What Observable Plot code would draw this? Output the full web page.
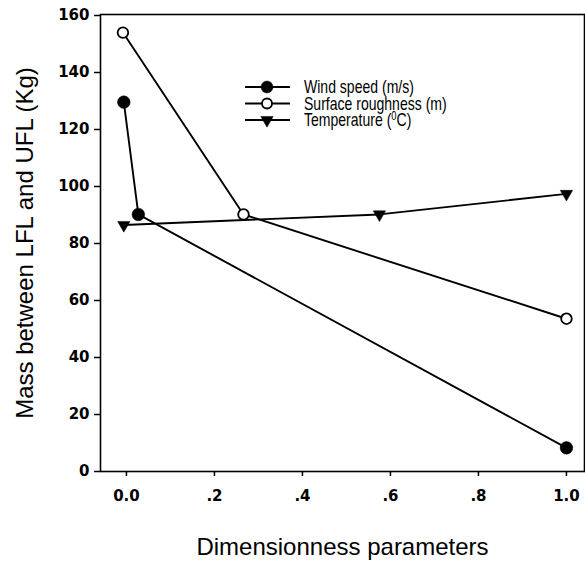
<!DOCTYPE html>
<html>
<head>
<meta charset="utf-8">
<script src="https://cdn.jsdelivr.net/npm/d3@7"></script>
<script src="https://cdn.jsdelivr.net/npm/@observablehq/plot@0.6"></script>
<style>
  html, body { margin: 0; padding: 0; background: white; }
</style>
</head>
<body>
<div id="chart"></div>
<script>
// Series (x = dimensionless parameter, y = mass in kg)
const windX = [-0.006, 0.027, 1.0];
const windY = [129.6, 90.2, 8.3];
const roughX = [-0.008, 0.266, 1.0];
const roughY = [154, 90.2, 53.6];
const tempX = [-0.006, 0.575, 1.0];
const tempY = [86.5, 90.2, 97.4];

const seriesNames = ["Wind speed (m/s)", "Surface roughness (m)", "Temperature"];
const xTicks = [0, 0.2, 0.4, 0.6, 0.8, 1.0];
const xTickLabels = ["0.0", ".2", ".4", ".6", ".8", "1.0"];
const yTicks = [0, 20, 40, 60, 80, 100, 120, 140, 160];
const xTitle = "Dimensionness parameters";
const yTitle = "Mass between LFL and UFL (Kg)";

const toRows = (xs, ys) => xs.map((x, i) => ({x, y: ys[i]}));
const wind = toRows(windX, windY);
const rough = toRows(roughX, roughY);
const temp = toRows(tempX, tempY);

const tickFont = {fontFamily: "DejaVu Sans", fontWeight: "bold", fontSize: 15};

const chart = Plot.plot({
  width: 585,
  height: 564,
  marginLeft: 100,
  marginRight: 1,
  marginTop: 14,
  marginBottom: 93,
  style: {fontFamily: "Liberation Sans, Arial, sans-serif", background: "white", color: "black"},
  x: {domain: [-0.059, 1.041]},
  y: {domain: [0, 160.35]},
  marks: [
    Plot.frame({stroke: "black", strokeWidth: 1.6}),
    Plot.axisX({ticks: xTicks, tickFormat: (d, i) => xTickLabels[i], tickSize: 5, tickPadding: 14, label: null, strokeWidth: 1.5, ...tickFont}),
    Plot.axisY({ticks: yTicks, tickSize: 6, tickPadding: 5, label: null, strokeWidth: 1.5, ...tickFont}),
    Plot.text([xTitle], {frameAnchor: "bottom", lineAnchor: "middle", textAnchor: "middle", dy: 76, fontSize: 24, fill: "black"}),
    Plot.text([yTitle], {frameAnchor: "left", lineAnchor: "middle", textAnchor: "middle", rotate: -90, dx: -75, fontSize: 24, fill: "black"}),
    Plot.line(wind, {x: "x", y: "y", stroke: "black", strokeWidth: 1.9}),
    Plot.line(rough, {x: "x", y: "y", stroke: "black", strokeWidth: 1.9}),
    Plot.line(temp, {x: "x", y: "y", stroke: "black", strokeWidth: 1.9}),
    Plot.dot(wind, {x: "x", y: "y", r: 6.3, fill: "black", stroke: "black", strokeWidth: 0.5}),
    Plot.dot(rough, {x: "x", y: "y", r: 5.3, fill: "white", stroke: "black", strokeWidth: 1.8}),
    Plot.dot(temp, {x: "x", y: "y", symbol: "triangle", rotate: 180, r: 4.6, fill: "black", stroke: "black", strokeWidth: 0.5})
  ]
});

document.getElementById("chart").appendChild(chart);

// Legend
const svg = d3.select(chart);
const legend = svg.append("g").attr("font-family", "Liberation Sans, Arial, sans-serif").attr("font-size", 18).attr("text-anchor", "start");
const rowsY = [87, 103.5, 120];
const sym = [
  d3.symbol(d3.symbolCircle, Math.PI * 6 * 6),
  d3.symbol(d3.symbolCircle, Math.PI * 5 * 5),
  d3.symbol(d3.symbolTriangle, Math.PI * 4.6 * 4.6)
];
seriesNames.forEach((name, i) => {
  const g = legend.append("g").attr("transform", `translate(0,${rowsY[i]})`);
  g.append("line").attr("x1", 245).attr("x2", 290).attr("y1", 0).attr("y2", 0).attr("stroke", "black").attr("stroke-width", 1.8);
  g.append("path").attr("d", sym[i]()).attr("transform", `translate(267,0)` + (i === 2 ? " rotate(180)" : ""))
    .attr("fill", i === 1 ? "white" : "black").attr("stroke", "black").attr("stroke-width", i === 1 ? 1.8 : 0.5);
  const t = g.append("text").attr("transform", "translate(304,0) scale(0.78,1)").attr("dy", "0.36em").attr("fill", "black").text(name);
  if (i === 2) {
    t.append("tspan").text(" (");
    t.append("tspan").attr("baseline-shift", "super").attr("font-size", 12).text("0");
    t.append("tspan").text("C)");
  }
});
</script>
</body>
</html>
